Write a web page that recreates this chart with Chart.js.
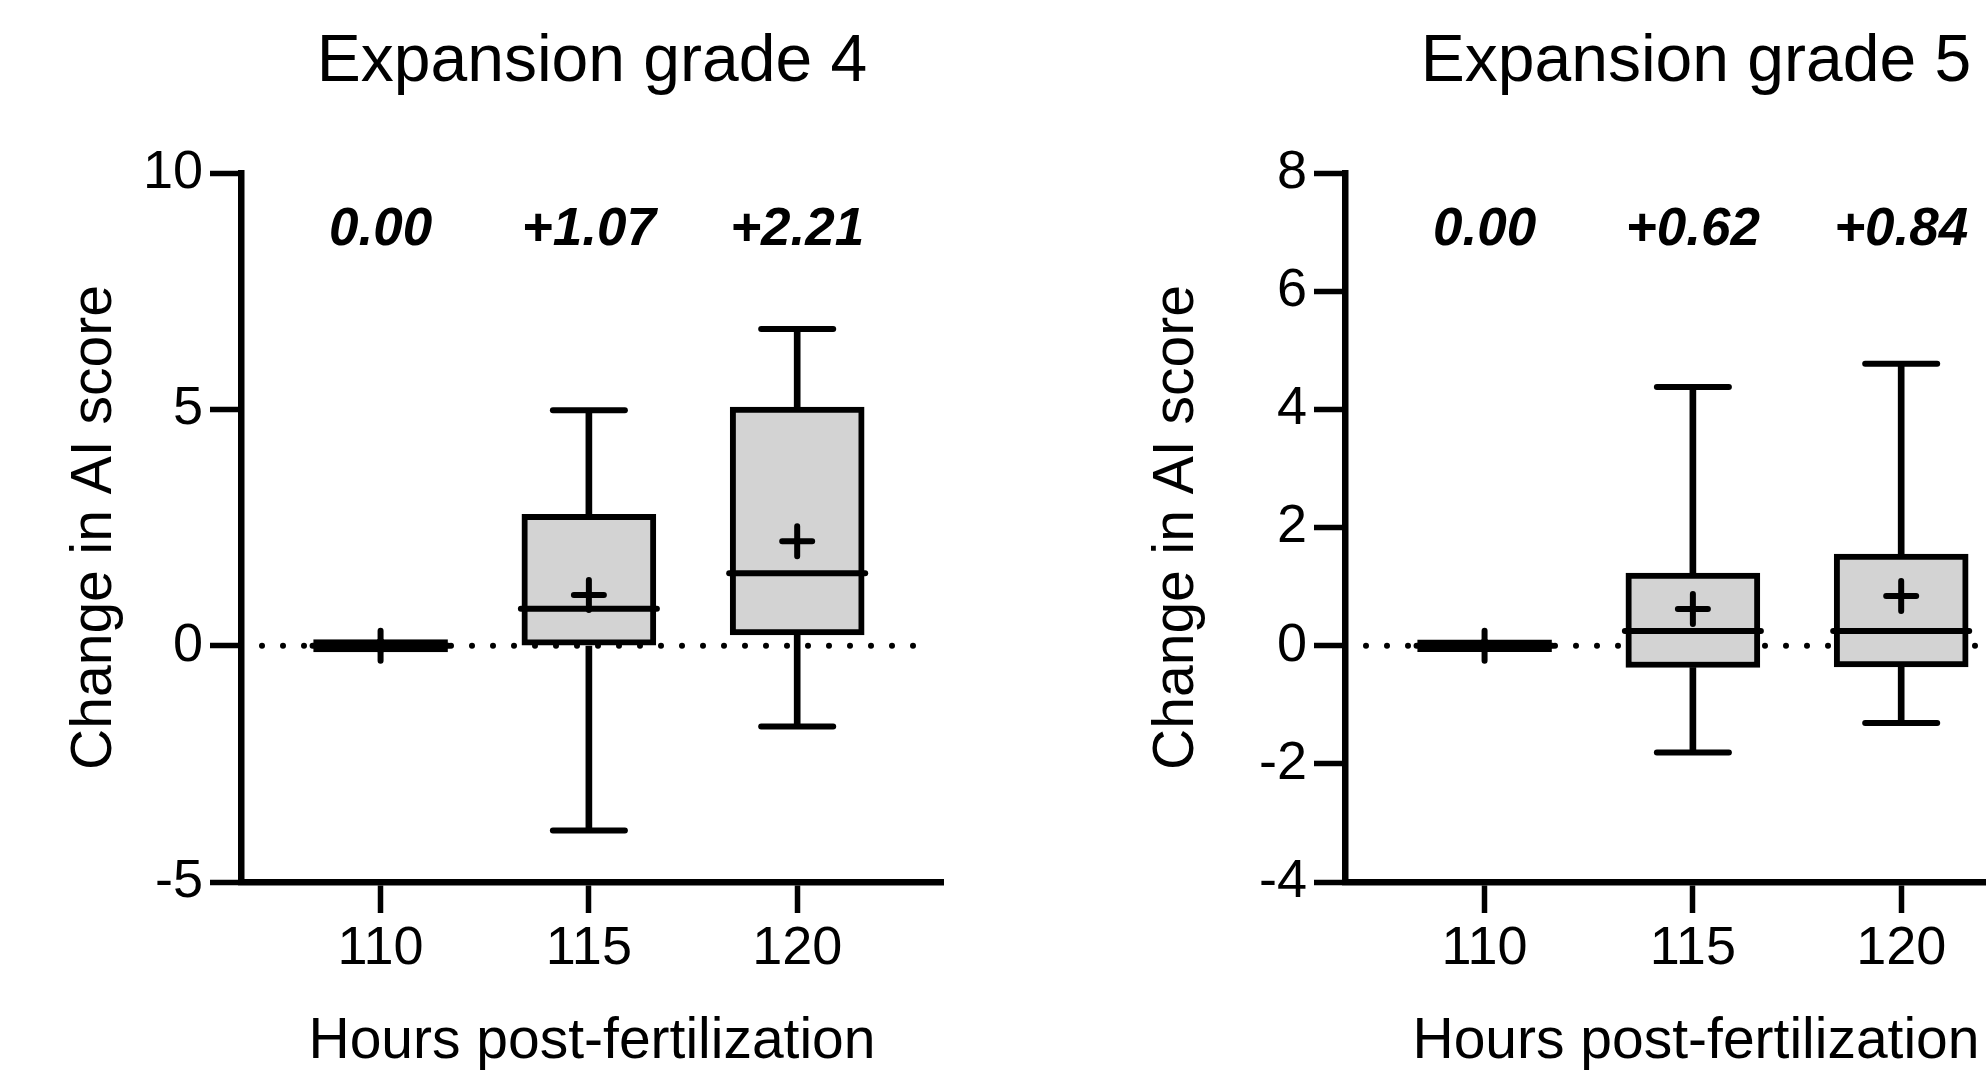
<!DOCTYPE html>
<html>
<head>
<meta charset="utf-8">
<title>Change in AI score by expansion grade</title>
<script src="https://cdn.jsdelivr.net/npm/chart.js@4.4.1/dist/chart.umd.min.js"></script>
<style>
    html, body {
        margin: 0;
        padding: 0;
        background: #ffffff;
        overflow: hidden;
    }
    body {
        position: relative;
        width: 1986px;
        height: 1071px;
    }
    canvas {
        position: absolute;
        top: 0;
    }
    #grade4 { left: 0; }
    #grade5 { left: 1104px; }
</style>
</head>
<body>
<canvas id="grade4" width="993" height="1071"></canvas>
<canvas id="grade5" width="993" height="1071"></canvas>
<script>
// hours post-fertilization (x categories)
var hours = [110, 115, 120];

// expansion grade 4 : box plot values
var g4Min    = [0, -3.91, -1.71];
var g4Q1     = [-0.13, 0, 0.23];
var g4Median = [0, 0.78, 1.53];
var g4Q3     = [0.13, 2.78, 5.05];
var g4Max    = [0, 4.98, 6.70];
var g4Mean   = [0, 1.07, 2.21];
var g4Ticks  = [-5, 0, 5, 10];

// expansion grade 5
var g5Min    = [0, -1.81, -1.31];
var g5Q1     = [-0.1, -0.37, -0.36];
var g5Median = [0, 0.25, 0.25];
var g5Q3     = [0.1, 1.23, 1.55];
var g5Max    = [0, 4.38, 4.77];
var g5Mean   = [0, 0.62, 0.84];
var g5Ticks  = [-4, -2, 0, 2, 4, 6, 8];

Chart.defaults.font.family = '"Liberation Sans", Arial, Helvetica, sans-serif';
Chart.defaults.color = '#000';

function points(values) {
    return hours.map((h, i) => ({ x: h, y: values[i] }));
}

function ranges(lo, hi) {
    return hours.map((h, i) => ({ x: h, y: [lo[i], hi[i]] }));
}

function meanText(v) {
    if (v === 0) return '0.00';
    return (v > 0 ? '+' : '') + v.toFixed(2);
}

// dotted line at 0 + the mean values written above the boxes
var boxExtras = {
    id: 'boxExtras',
    beforeDatasetsDraw(chart) {
        var ctx = chart.ctx;
        var area = chart.chartArea;
        var y = chart.scales.y.getPixelForValue(0);
        ctx.save();
        ctx.strokeStyle = '#000';
        ctx.lineWidth = 6;
        ctx.lineCap = 'round';
        ctx.setLineDash([0, 21]);
        ctx.beginPath();
        ctx.moveTo(area.left + 21, y);
        ctx.lineTo(area.right - 15, y);
        ctx.stroke();
        ctx.restore();
        // round ends for whisker caps, medians and mean crosses
        ctx.lineCap = 'round';
    },
    afterDatasetsDraw(chart, args, opts) {
        var ctx = chart.ctx;
        ctx.lineCap = 'butt';
        ctx.save();
        ctx.fillStyle = '#000';
        ctx.font = 'italic bold 53px "Liberation Sans", Arial, sans-serif';
        ctx.textAlign = 'center';
        ctx.textBaseline = 'middle';
        opts.means.forEach((m, i) => {
            var x = chart.scales.x.getPixelForValue(hours[i]);
            ctx.fillText(meanText(m), x, chart.chartArea.top + 57);
        });
        ctx.restore();
    }
};

function makeChart(id, title, d, yTitlePad) {
    var ctx = document.getElementById(id).getContext('2d');
    return new Chart(ctx, {
        type: 'bar',
        data: {
            datasets: [{
                // first dataset is drawn on top
                type: 'scatter',
                label: 'mean',
                data: points(d.mean),
                pointStyle: 'cross',
                pointRadius: 15,
                borderWidth: 6,
                borderColor: '#000'
            }, {
                type: 'scatter',
                label: 'median',
                data: points(d.median),
                pointStyle: 'line',
                pointRadius: 68,
                borderWidth: 6,
                borderColor: '#000'
            }, {
                label: 'box',
                data: ranges(d.q1, d.q3),
                backgroundColor: '#d3d3d3',
                borderColor: '#000',
                borderWidth: 6,
                borderSkipped: false,
                barThickness: 134,
                grouped: false
            }, {
                type: 'scatter',
                label: 'caps',
                data: points(d.min).concat(points(d.max)),
                pointStyle: 'line',
                pointRadius: 36,
                borderWidth: 6,
                borderColor: '#000'
            }, {
                label: 'upper whisker',
                data: ranges(d.q3, d.max),
                backgroundColor: '#000',
                borderWidth: 0,
                barThickness: 6,
                grouped: false
            }, {
                label: 'lower whisker',
                data: ranges(d.min, d.q1),
                backgroundColor: '#000',
                borderWidth: 0,
                barThickness: 6,
                grouped: false
            }]
        },
        options: {
            responsive: false,
            animation: false,
            events: [],
            layout: {
                autoPadding: false,
                padding: { left: 0, right: 50, top: 0, bottom: 0 }
            },
            plugins: {
                legend: { display: false },
                tooltip: { enabled: false },
                title: {
                    display: true,
                    text: title,
                    fullSize: false,
                    color: '#000',
                    font: { size: 66, weight: 'normal', lineHeight: 1 },
                    padding: { top: 29.5, bottom: 77.5 }
                },
                boxExtras: { means: d.mean }
            },
            scales: {
                x: {
                    type: 'linear',
                    min: 106.65,
                    max: 123.5,
                    offset: false,
                    afterBuildTicks: (s) => { s.ticks = hours.map(h => ({ value: h })); },
                    afterFit: (s) => {
                        s.height = 189;
                        s.paddingLeft = 0;
                        s.paddingRight = 0;
                    },
                    ticks: { font: { size: 54 }, padding: 4, color: '#000' },
                    grid: {
                        offset: false,
                        drawOnChartArea: false,
                        drawTicks: true,
                        tickLength: 31,
                        tickWidth: 5.5,
                        tickColor: '#000'
                    },
                    border: { display: true, color: '#000', width: 6.5 },
                    title: {
                        display: true,
                        text: 'Hours post-fertilization',
                        color: '#000',
                        font: { size: 57, lineHeight: 1 },
                        padding: { top: 0, bottom: 0 }
                    }
                },
                y: {
                    min: d.ticks[0],
                    max: d.ticks[d.ticks.length - 1],
                    afterBuildTicks: (s) => { s.ticks = d.ticks.map(v => ({ value: v })); },
                    afterFit: (s) => { s.width = 241; },
                    ticks: { font: { size: 54 }, padding: 7, color: '#000' },
                    grid: {
                        drawOnChartArea: false,
                        drawTicks: true,
                        tickLength: 31,
                        tickWidth: 5.5,
                        tickColor: '#000'
                    },
                    border: { display: true, color: '#000', width: 6.5 },
                    title: {
                        display: true,
                        text: 'Change in AI score',
                        color: '#000',
                        font: { size: 57, lineHeight: 1 },
                        padding: { top: yTitlePad, bottom: 0 }
                    }
                }
            }
        },
        plugins: [boxExtras]
    });
}

makeChart('grade4', 'Expansion grade 4', {
    min: g4Min, q1: g4Q1, median: g4Median, q3: g4Q3, max: g4Max, mean: g4Mean, ticks: g4Ticks
}, 66.5);

makeChart('grade5', 'Expansion grade 5', {
    min: g5Min, q1: g5Q1, median: g5Median, q3: g5Q3, max: g5Max, mean: g5Mean, ticks: g5Ticks
}, 44.5);
</script>
</body>
</html>
